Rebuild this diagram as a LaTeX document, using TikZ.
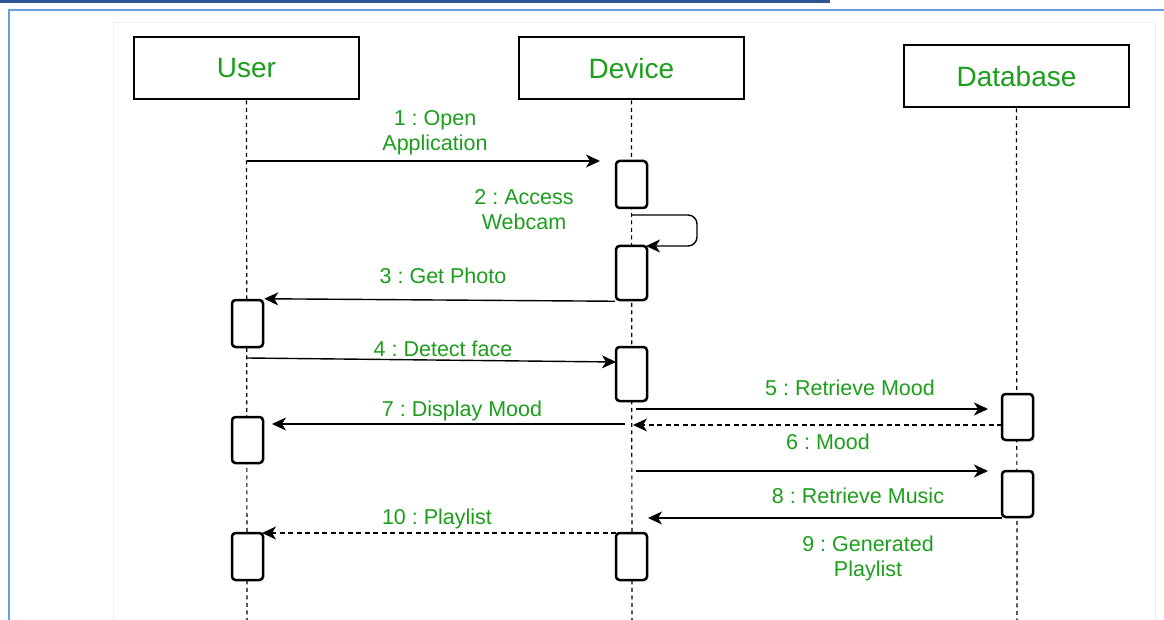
\documentclass[tikz,border=0pt]{standalone}
\usepackage{fontspec}
\setmainfont{Liberation Sans}
\usepackage{xcolor}
\usepackage{tikz}
\usetikzlibrary{arrows.meta,positioning,calc}

\definecolor{txtgreen}{RGB}{28,158,28}
\definecolor{barblue}{RGB}{47,84,150}
\definecolor{frameblue}{RGB}{104,160,220}
\definecolor{panelgray}{RGB}{238,238,238}

\tikzset{
  obj/.style={draw, line width=2.8pt, minimum width=225pt, minimum height=62pt,
    text=txtgreen, font=\fontsize{28}{33}\selectfont},
  act/.style={draw, fill=white, line width=2.5pt, rounded corners=3.5pt,
    minimum width=31pt, inner sep=0pt},
  life/.style={line width=1.2pt, dash pattern=on 4pt off 3.5pt},
  msg/.style={-{Stealth[length=14pt,width=13pt,inset=4pt]}, line width=1.4pt},
  ret/.style={msg, dash pattern=on 5pt off 3.5pt},
  msglbl/.style={text=txtgreen, font=\fontsize{21.5}{25}\selectfont, align=center, inner sep=0pt}
}

\begin{document}
\frenchspacing
\begin{tikzpicture}[x=1pt,y=-1pt]
        \useasboundingbox (0,0) rectangle (1164,620);

        % Window frame
        \fill[barblue] (0,0) rectangle (830,3);
        \draw[frameblue, line width=2.5pt] (9,620) -- (9,10) -- (1164,10);
        \draw[panelgray, line width=1pt] (113,625) -- (113,23) -- (1155,23) -- (1155,625);

        % Objects
        \node[obj] (user) at (246.5,68) {User};
        \node[obj] (device) at (631.5,68) {Device};
        \node[obj] (db) at (1016.5,76) {Database};

        % Lifelines
        \coordinate (userend) at (247,622);
        \coordinate (deviceend) at (632,622);
        \coordinate (dbend) at (1017,622);
        \draw[life] (user.south) -- (userend);
        \draw[life] (device.south) -- (deviceend);
        \draw[life] (db.south) -- (dbend);

        % Activations
        \node[act, minimum height=47pt] (dev1) at (631.5,184.5) {};
        \node[act, minimum height=54pt] (dev2) at (631.5,273) {};
        \node[act, minimum height=47pt] (usr1) at (247.5,323.5) {};
        \node[act, minimum height=54pt] (dev3) at (631.5,374) {};
        \node[act, minimum height=46pt] (db1) at (1017.5,417) {};
        \node[act, minimum height=46pt] (usr2) at (247.5,440) {};
        \node[act, minimum height=46pt] (db2) at (1017.5,494) {};
        \node[act, minimum height=47pt] (usr3) at (247.5,556.5) {};
        \node[act, minimum height=47pt] (dev4) at (631.5,556.5) {};

        % 1 : Open Application
        \coordinate (m1a) at (247,161);
        \coordinate (m1b) at (600,161);
        \draw[msg] (m1a) -- (m1b);
        \node[msglbl] (l1) at (435,133) {1 : Open\\Application};

        % 2 : Access Webcam
        \coordinate (m2a) at (632,215);
        \coordinate (m2b) at (646,246);
        \draw[msg, rounded corners=9pt] (m2a) -- (697,215) -- (697,246) -- (m2b);
        \node[msglbl] (l2) at (524,210) {2 : Access\\Webcam};

        % 3 : Get Photo
        \draw[msg] (dev2.south west) -- (usr1.north east);
        \node[msglbl] (l3) at (443,276) {3 : Get Photo};

        % 4 : Detect face
        \coordinate (m4a) at (247,358);
        \coordinate (m4b) at (616,362);
        \draw[msg] (m4a) -- (m4b);
        \node[msglbl] (l4) at (443,349) {4 : Detect face};

        % 5 : Retrieve Mood / 6 : Mood
        \coordinate (m5a) at (636,409);
        \coordinate (m5b) at (988,409);
        \draw[msg] (m5a) -- (m5b);
        \node[msglbl] (l5) at (850,388) {5 : Retrieve Mood};
        \coordinate (m6a) at (1002,425);
        \coordinate (m6b) at (633,425);
        \draw[ret] (m6a) -- (m6b);
        \node[msglbl] (l6) at (828,442) {6 : Mood};

        % 7 : Display Mood
        \coordinate (m7a) at (625,424);
        \coordinate (m7b) at (272,424);
        \draw[msg] (m7a) -- (m7b);
        \node[msglbl] (l7) at (462,411) {7 : Display Mood};

        % 8 : Retrieve Music / 9 : Generated Playlist
        \coordinate (m8a) at (636,471);
        \coordinate (m8b) at (988,471);
        \draw[msg] (m8a) -- (m8b);
        \node[msglbl] (l8) at (858,496) {8 : Retrieve Music};
        \coordinate (m9a) at (1002,518);
        \coordinate (m9b) at (648,518);
        \draw[msg] (m9a) -- (m9b);
        \node[msglbl] (l9) at (868,558) {9 : Generated\\Playlist};

        % 10 : Playlist
        \coordinate (m10a) at (616,533);
        \coordinate (m10b) at (262,533);
        \draw[ret] (m10a) -- (m10b);
        \node[msglbl] (l10) at (437,519) {10 : Playlist};
\end{tikzpicture}
\end{document}
